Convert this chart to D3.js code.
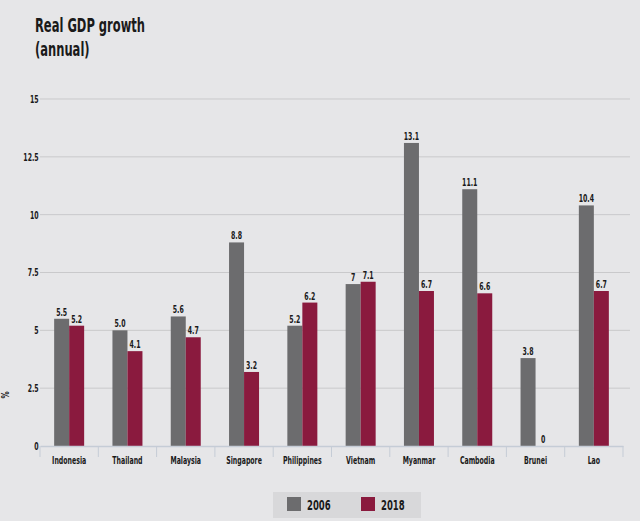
<!DOCTYPE html>
<html><head><meta charset="utf-8">
<script src="https://cdnjs.cloudflare.com/ajax/libs/d3/7.8.5/d3.min.js"></script>
<style>
body{margin:0;background:#e6e6e8;}
svg{display:block;}
text{font-family:"DejaVu Sans Condensed","Liberation Sans",sans-serif;font-weight:bold;fill:#1a1a1a;}
</style></head><body>
<svg id="c" width="640" height="521"></svg>
<script>
const categories = ["Indonesia","Thailand","Malaysia","Singapore","Philippines","Vietnam","Myanmar","Cambodia","Brunei","Lao"];
const values2006 = [5.5, 5.0, 5.6, 8.8, 5.2, 7, 13.1, 11.1, 3.8, 10.4];
const values2018 = [5.2, 4.1, 4.7, 3.2, 6.2, 7.1, 6.7, 6.6, 0, 6.7];
const labels2006 = ["5.5","5.0","5.6","8.8","5.2","7","13.1","11.1","3.8","10.4"];
const labels2018 = ["5.2","4.1","4.7","3.2","6.2","7.1","6.7","6.6","0","6.7"];
const yTicks = [0, 2.5, 5, 7.5, 10, 12.5, 15];
const yTickLabels = ["0","2.5","5","7.5","10","12.5","15"];
const seriesNames = ["2006","2018"];
const colors = ["#6c6c6e","#8a1a3e"];

const svg = d3.select("#c");
const W = 640, H = 521;
svg.append("rect").attr("width",W).attr("height",H).attr("fill","#e6e6e8");

const x = d3.scaleBand().domain(categories).range([40,623]).padding(0);
const y = d3.scaleLinear().domain([0,15]).range([446,99]);
const xs = d3.scaleBand().domain(seriesNames).range([0,30]);

function ctext(parent, tx, ty, str, size, sx, anchor){
  return parent.append("text")
    .attr("transform",`translate(${tx},${ty}) scale(${sx},1)`)
    .attr("font-size",size).attr("text-anchor",anchor||"start").text(str);
}

// title
ctext(svg,35,32,"Real GDP growth",20,0.64);
ctext(svg,35,56,"(annual)",20,0.64);

// gridlines
svg.append("g").selectAll("line").data(yTicks.filter(d=>d>0)).join("line")
  .attr("x1",40).attr("x2",630).attr("y1",d=>y(d)).attr("y2",d=>y(d))
  .attr("stroke","#c9c9cb").attr("stroke-width",1);

// y axis
const yAxis = d3.axisLeft(y).tickValues(yTicks).tickFormat((d,i)=>yTickLabels[i]).tickSize(0).tickPadding(5);
const yg = svg.append("g").attr("transform","translate(42,0)").call(yAxis);
yg.select(".domain").remove();
yg.selectAll("text").attr("font-size",10.5).attr("font-family",null).attr("fill","#1a1a1a")
  .attr("transform","scale(0.66,1)");

svg.append("text").attr("transform","translate(9,395) rotate(-90) scale(0.8,1)").attr("text-anchor","middle")
  .attr("font-size",10).text("%");

// bars
const groups = svg.append("g").selectAll("g").data(categories).join("g")
  .attr("transform",d=>`translate(${x(d)+x.bandwidth()/2-15},0)`);
groups.each(function(c,i){
  const g = d3.select(this);
  const vals = [values2006[i], values2018[i]];
  const labs = [labels2006[i], labels2018[i]];
  seriesNames.forEach((s,j)=>{
    g.append("rect").attr("x",xs(s)).attr("width",xs.bandwidth())
      .attr("y",y(vals[j])).attr("height",Math.max(0,y(0)-y(vals[j])))
      .attr("fill",colors[j]);
    ctext(g, xs(s)+xs.bandwidth()/2, y(vals[j])-3, labs[j], 10.5, 0.66, "middle");
  });
});

// x axis
const xAxis = d3.axisBottom(x).tickSize(0).tickPadding(11);
const xg = svg.append("g").attr("transform","translate(0,446)").call(xAxis);
xg.select(".domain").attr("stroke","#c5ccd6").attr("stroke-width",1.5);
xg.selectAll("text").attr("font-size",10.5).attr("font-family",null).attr("fill","#1a1a1a")
  .attr("transform","scale(0.66,1)");
svg.append("g").selectAll("line").data(d3.range(categories.length+1)).join("line")
  .attr("x1",i=>40+i*x.step()).attr("x2",i=>40+i*x.step())
  .attr("y1",446).attr("y2",457).attr("stroke","#c5ccd6").attr("stroke-width",1);

// legend
const lg = svg.append("g").attr("transform","translate(273,492)");
lg.append("rect").attr("width",148).attr("height",26).attr("fill","#d8d8da");
seriesNames.forEach((s,j)=>{
  lg.append("rect").attr("x",14+j*74).attr("y",5).attr("width",14).attr("height",14).attr("fill",colors[j]);
  ctext(lg, 34+j*74, 18, s, 13.5, 0.7);
});
</script>
</body></html>
